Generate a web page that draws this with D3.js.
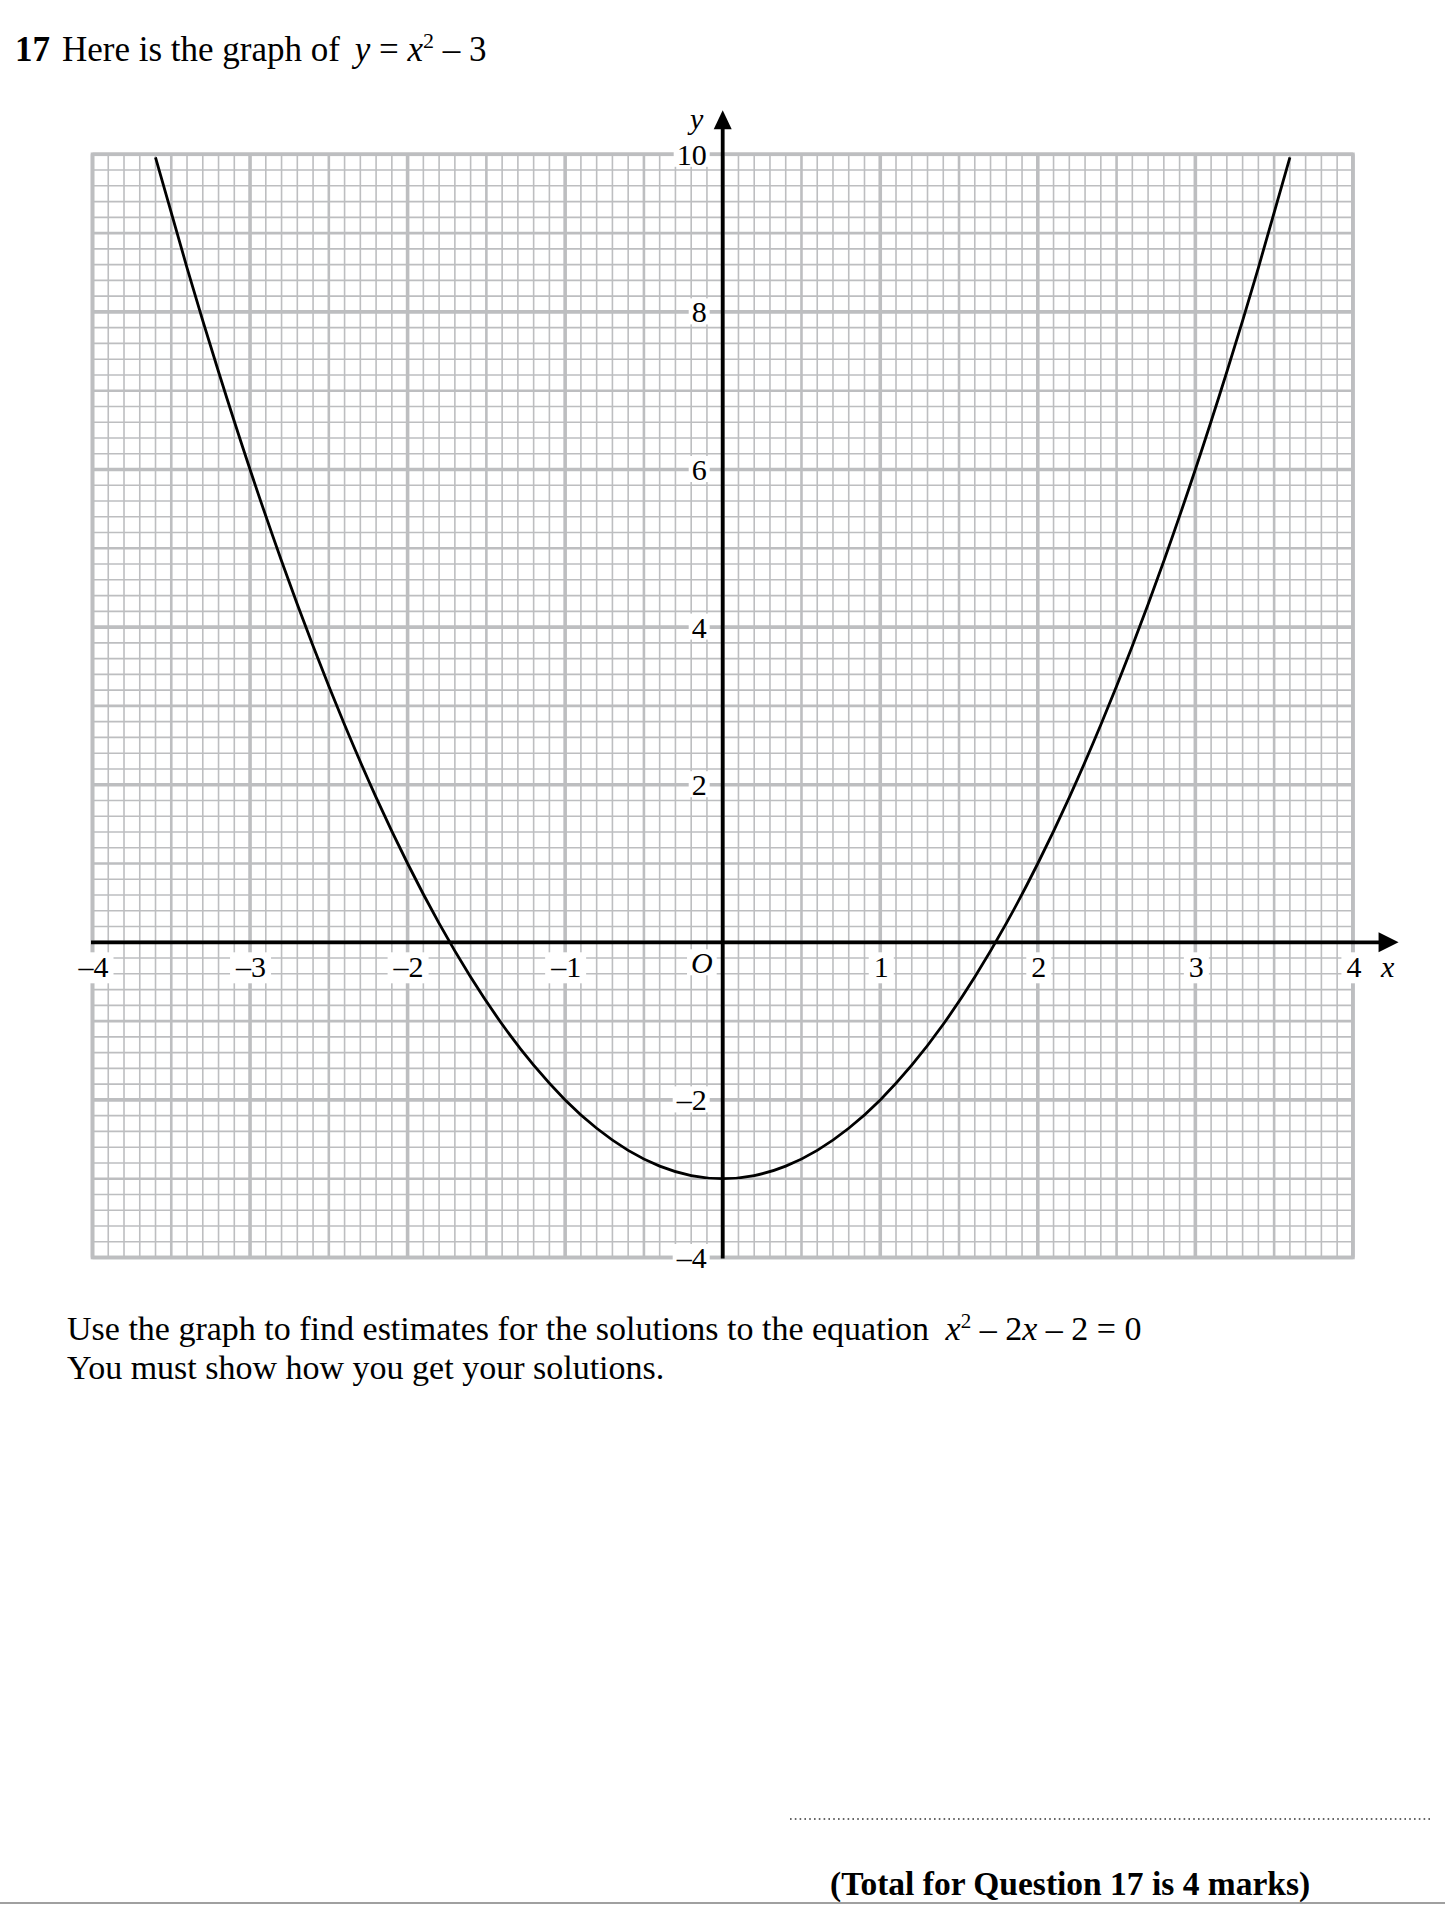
<!DOCTYPE html>
<html>
<head>
<meta charset="utf-8">
<script src="https://cdn.jsdelivr.net/npm/d3@7"></script>
<style>
  html, body { margin: 0; padding: 0; background: #fff; }
  svg { display: block; }
  text { font-family: "Liberation Serif", "Times New Roman", serif; fill: #000; }
</style>
</head>
<body>
<svg id="chart" width="1445" height="1905"></svg>
<script>
// ---------- data ----------
const curveX = [-3.6, -3.4, -3.2, -3.0, -2.8, -2.6, -2.4, -2.2, -2.0, -1.8, -1.6, -1.4, -1.2, -1.0, -0.8, -0.6, -0.4, -0.2, 0,
                 0.2, 0.4, 0.6, 0.8, 1.0, 1.2, 1.4, 1.6, 1.8, 2.0, 2.2, 2.4, 2.6, 2.8, 3.0, 3.2, 3.4, 3.6];
const curveY = [9.96, 8.56, 7.24, 6.0, 4.84, 3.76, 2.76, 1.84, 1.0, 0.24, -0.44, -1.04, -1.56, -2.0, -2.36, -2.64, -2.84, -2.96, -3.0,
                -2.96, -2.84, -2.64, -2.36, -2.0, -1.56, -1.04, -0.44, 0.24, 1.0, 1.84, 2.76, 3.76, 4.84, 6.0, 7.24, 8.56, 9.96];
const xTickValues = [-4, -3, -2, -1, 1, 2, 3, 4];
const xTickLabels = ["\u20134", "\u20133", "\u20132", "\u20131", "1", "2", "3", "4"];
const yTickValues = [10, 8, 6, 4, 2, -2, -4];
const yTickLabels = ["10", "8", "6", "4", "2", "\u20132", "\u20134"];
const xDomain = [-4, 4];
const yDomain = [-4, 10];
const xArrowTip = 4.29;
const yArrowTip = 10.56;

// ---------- scales ----------
const x = d3.scaleLinear().domain(xDomain).range([92.5, 1352.9]);
const y = d3.scaleLinear().domain(yDomain).range([1257.5, 154.3]);

const svg = d3.select("#chart");
const gridColor = "#bdbec0";
const serif = '"Liberation Serif", "Times New Roman", serif';

// title
const title = svg.append("text").attr("x", 15).attr("y", 61).style("font-size", "35px");
title.append("tspan").style("font-weight", "bold").text("17");
title.append("tspan").attr("dx", 12).text("Here is the graph of ");
title.append("tspan").attr("dx", 6).style("font-style", "italic").text("y");
title.append("tspan").text(" = ");
title.append("tspan").style("font-style", "italic").text("x");
title.append("tspan").attr("dy", -13).style("font-size", "22px").text("2");
title.append("tspan").attr("dy", 13).text(" \u2013 3");

// ---------- grid ----------
const g = svg.append("g");
const vLines = d3.range(-40, 41).map(i => ({ v: i / 10, kind: i % 10 === 0 ? 2 : (Math.abs(i) % 5 === 0 ? 1 : 0) }));
const hLines = d3.range(-20, 51).map(i => ({ v: i / 5, kind: i % 10 === 0 ? 2 : (Math.abs(i) % 5 === 0 ? 1 : 0) }));
const widths = [1.6, 2.6, 3.6];
[0, 1, 2].forEach(k => {
  g.selectAll(null).data(vLines.filter(d => d.kind === k)).enter().append("line")
    .attr("x1", d => x(d.v)).attr("x2", d => x(d.v))
    .attr("y1", y(yDomain[1])).attr("y2", y(yDomain[0]))
    .attr("stroke", gridColor).attr("stroke-width", widths[k]);
  g.selectAll(null).data(hLines.filter(d => d.kind === k)).enter().append("line")
    .attr("y1", d => y(d.v)).attr("y2", d => y(d.v))
    .attr("x1", x(xDomain[0])).attr("x2", x(xDomain[1]))
    .attr("stroke", gridColor).attr("stroke-width", widths[k]);
});
g.append("rect")
  .attr("x", x(xDomain[0])).attr("y", y(yDomain[1]))
  .attr("width", x(xDomain[1]) - x(xDomain[0])).attr("height", y(yDomain[0]) - y(yDomain[1]))
  .attr("fill", "none").attr("stroke", gridColor).attr("stroke-width", 3.6);

// ---------- labels with white backgrounds ----------
const labG = svg.append("g");
function boxedText(tx, ty, str, anchor, italic, padX, padTop, padBot) {
  const bg = labG.append("rect").attr("fill", "#fff");
  const t = labG.append("text").attr("x", tx).attr("y", ty).attr("text-anchor", anchor)
    .style("font-family", serif)
    .style("font-size", "30px").style("font-style", italic ? "italic" : "normal").text(str);
  const b = t.node().getBBox();
  bg.attr("x", b.x - padX).attr("y", b.y + padTop).attr("width", b.width + 2 * padX)
    .attr("height", b.height - padTop + padBot);
  return t;
}
xTickValues.forEach((v, i) => {
  boxedText(x(v) + 1, y(0) + 35, xTickLabels[i], "middle", false, 5, 2, 0);
});
yTickValues.forEach((v, i) => {
  boxedText(x(0) - 16, y(v) + 10.5, yTickLabels[i], "end", false, 3, 3, -4);
});
boxedText(x(0) - 10, y(0) + 31, "O", "end", true, 4, 3, -4);

// ---------- curve ----------
const pts = curveX.map((v, i) => [v, curveY[i]]);
svg.append("path")
  .attr("d", d3.line().x(d => x(d[0])).y(d => y(d[1])).curve(d3.curveNatural)(pts))
  .attr("fill", "none").attr("stroke", "#000").attr("stroke-width", 2.8);

// ---------- axes ----------
const axG = svg.append("g");
axG.append("line").attr("x1", x(xDomain[0]) - 1.5).attr("x2", x(xArrowTip) - 16)
  .attr("y1", y(0)).attr("y2", y(0)).attr("stroke", "#000").attr("stroke-width", 3.8);
axG.append("path")
  .attr("d", `M${x(xArrowTip)},${y(0)} L${x(xArrowTip) - 20},${y(0) - 10} L${x(xArrowTip) - 20},${y(0) + 10} Z`)
  .attr("fill", "#000");
axG.append("line").attr("x1", x(0)).attr("x2", x(0))
  .attr("y1", y(yArrowTip) + 16).attr("y2", y(yDomain[0]) + 1)
  .attr("stroke", "#000").attr("stroke-width", 3.8);
axG.append("path")
  .attr("d", `M${x(0)},${y(yArrowTip)} L${x(0) - 9},${y(yArrowTip) + 19} L${x(0) + 9},${y(yArrowTip) + 19} Z`)
  .attr("fill", "#000");
svg.append("text").attr("x", x(0) - 26).attr("y", y(yArrowTip) + 19).attr("text-anchor", "middle")
  .style("font-family", serif).style("font-size", "30px").style("font-style", "italic").text("y");
svg.append("text").attr("x", x(xArrowTip) - 11).attr("y", y(0) + 35).attr("text-anchor", "middle")
  .style("font-family", serif).style("font-size", "30px").style("font-style", "italic").text("x");

// ---------- question text ----------
const q1 = svg.append("text").attr("x", 67).attr("y", 1340).style("font-size", "34px");
q1.append("tspan").text("Use the graph to find estimates for the solutions to the equation ");
q1.append("tspan").attr("dx", 8).style("font-style", "italic").text("x");
q1.append("tspan").attr("dy", -12).style("font-size", "21px").text("2");
q1.append("tspan").attr("dy", 12).text(" \u2013 2");
q1.append("tspan").style("font-style", "italic").text("x");
q1.append("tspan").text(" \u2013 2 = 0");
svg.append("text").attr("x", 67).attr("y", 1379).style("font-size", "34px")
  .text("You must show how you get your solutions.");

svg.append("line").attr("x1", 790).attr("x2", 1433).attr("y1", 1819).attr("y2", 1819)
  .attr("stroke", "#333").attr("stroke-width", 1.6).attr("stroke-dasharray", "1.6,3.2");

svg.append("text").attr("x", 830).attr("y", 1895).style("font-size", "33.5px").style("font-weight", "bold")
  .text("(Total for Question 17 is 4 marks)");
svg.append("line").attr("x1", 0).attr("x2", 1445).attr("y1", 1903).attr("y2", 1903)
  .attr("stroke", "#a0a0a0").attr("stroke-width", 2);
</script>
</body>
</html>
